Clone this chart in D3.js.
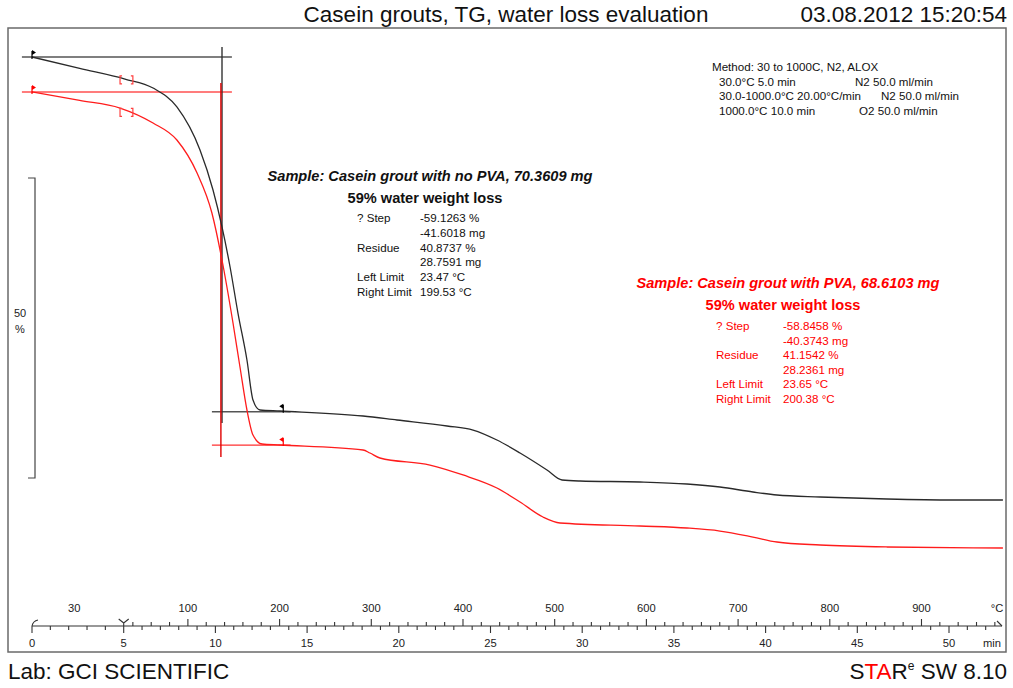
<!DOCTYPE html>
<html><head><meta charset="utf-8">
<script src="https://cdn.jsdelivr.net/npm/d3@7"></script>
<style>
html,body{margin:0;padding:0;background:#fff;}
svg{display:block;font-family:"Liberation Sans",Arial,sans-serif;}
</style></head>
<body><svg id="c" width="1013" height="688"></svg>
<script>
// ---- data (time in min, mass in %) ----
const timeBlack = [0, 2.6, 5.07, 6.6, 7.9, 9.16, 9.87, 10.36, 10.8, 11.23, 11.72, 12.05, 12.43, 13.52, 18.05, 19.9, 22.63, 24.05, 25.35, 26.61, 28.08, 28.9, 29.88, 33.15, 35.71, 37.51, 39.31, 40.62, 42.97, 46.62, 50.22, 52.94];
const massBlack = [100, 98.1, 96.33, 94.83, 91.67, 84.5, 77.83, 71.67, 65, 57.33, 49.5, 42.83, 41.17, 41.0, 40.17, 39.5, 38.5, 37.83, 36.17, 34, 31.17, 29.5, 29.33, 29.17, 28.83, 28.33, 27.5, 27.0, 26.67, 26.33, 26.17, 26.17];
const timeRed = [0, 2.6, 4.8, 6.6, 7.9, 9.0, 9.81, 10.36, 10.96, 11.34, 11.72, 12.05, 12.54, 13.52, 18.05, 18.43, 18.97, 21.7, 23.5, 25.35, 26.61, 27.86, 28.79, 33.15, 35.71, 37.51, 39.31, 40.62, 42.97, 46.62, 52.94];
const massRed = [100, 98.6, 97.33, 94.83, 92, 86.5, 79.83, 72, 61.5, 54.17, 47, 42.83, 41.33, 41.17, 40.33, 39.83, 39.0, 37.83, 36.17, 34, 31.67, 29.17, 28.17, 27.67, 27.33, 26.83, 25.83, 25.0, 24.5, 24.17, 24.0];
const timeTicks = [0, 5, 10, 15, 20, 25, 30, 35, 40, 45, 50];
const tempTicks = [100, 200, 300, 400, 500, 600, 700, 800, 900];
const residueBlack = 40.8737, residueRed = 41.1542;
const methodLines = [
  ["Method: 30 to 1000C, N2, ALOX", ""],
  ["30.0°C 5.0 min", "N2 50.0 ml/min"],
  ["30.0-1000.0°C 20.00°C/min", "N2 50.0 ml/min"],
  ["1000.0°C 10.0 min", "O2 50.0 ml/min"]
];
const tableBlack = [["? Step", "-59.1263 %"], ["", "-41.6018 mg"], ["Residue", "40.8737 %"], ["", "28.7591 mg"], ["Left Limit", "23.47 °C"], ["Right Limit", "199.53 °C"]];
const tableRed = [["? Step", "-58.8458 %"], ["", "-40.3743 mg"], ["Residue", "41.1542 %"], ["", "28.2361 mg"], ["Left Limit", "23.65 °C"], ["Right Limit", "200.38 °C"]];

// ---- scales ----
const x = d3.scaleLinear().domain([0, 50]).range([32, 949]);
const yB = d3.scaleLinear().domain([0, 100]).range([657, 57]);
const yR = d3.scaleLinear().domain([0, 100]).range([692, 92]);
const tempToTime = T => 5 + (T - 30) / 20;

const svg = d3.select("#c");
const RED = "#ff0000";

// frame
svg.append("rect").attr("x", 8).attr("y", 28).attr("width", 998).attr("height", 624)
  .attr("fill", "none").attr("stroke", "#6a6a6a").attr("stroke-width", 1.5);

// titles
svg.append("text").attr("x", 506).attr("y", 22).attr("text-anchor", "middle")
  .attr("font-size", 22.5).attr("fill", "#111").text("Casein grouts, TG, water loss evaluation");
svg.append("text").attr("x", 1007).attr("y", 22).attr("text-anchor", "end")
  .attr("font-size", 22.5).attr("fill", "#111").text("03.08.2012 15:20:54");
svg.append("text").attr("x", 8).attr("y", 679).attr("font-size", 22.5).attr("fill", "#111").text("Lab: GCI SCIENTIFIC");
const star = svg.append("text").attr("x", 1007).attr("y", 679).attr("text-anchor", "end").attr("font-size", 22.5).attr("fill", "#111");
star.append("tspan").text("S");
star.append("tspan").attr("fill", RED).text("TA");
star.append("tspan").text("R");
star.append("tspan").attr("font-size", 12).attr("dy", -9).text("e");
star.append("tspan").attr("dy", 9).text(" SW 8.10");

// method text
const mg = svg.append("g").attr("font-size", 11.6).attr("fill", "#111");
const mx1 = [712, 719, 719, 719];
const mx2 = [0, 855, 881, 859];
methodLines.forEach((l, i) => {
  mg.append("text").attr("x", mx1[i]).attr("y", 71 + i * 14.5).text(l[0]);
  if (l[1]) mg.append("text").attr("x", mx2[i]).attr("y", 71 + i * 14.5).text(l[1]);
});

// scale bar 50 %
const sbTop = 178, sbBot = sbTop + (yB(50) - yB(100));
svg.append("path").attr("d", `M28,${sbTop}H35V${sbBot}H28`).attr("fill", "none").attr("stroke", "#444").attr("stroke-width", 1.2);
svg.append("text").attr("x", 20).attr("y", 317).attr("text-anchor", "middle").attr("font-size", 11).attr("fill", "#222").text("50");
svg.append("text").attr("x", 20).attr("y", 333).attr("text-anchor", "middle").attr("font-size", 11).attr("fill", "#222").text("%");

// evaluation lines
const lineG = svg.append("g").attr("fill", "none");
lineG.append("line").attr("x1", x(-0.55)).attr("x2", x(10.9)).attr("y1", yB(100)).attr("y2", yB(100)).attr("stroke", "#555").attr("stroke-width", 1.3);
lineG.append("line").attr("x1", x(9.81)).attr("x2", x(14.1)).attr("y1", yB(residueBlack)).attr("y2", yB(residueBlack)).attr("stroke", "#555").attr("stroke-width", 1.3);
lineG.append("line").attr("x1", x(-0.55)).attr("x2", x(10.9)).attr("y1", yR(100)).attr("y2", yR(100)).attr("stroke", "#ff5050").attr("stroke-width", 1.3);
lineG.append("line").attr("x1", x(9.81)).attr("x2", x(14.1)).attr("y1", yR(residueRed)).attr("y2", yR(residueRed)).attr("stroke", "#ff3030").attr("stroke-width", 1.3);
lineG.append("line").attr("x1", x(10.36)).attr("x2", x(10.36)).attr("y1", 47).attr("y2", 423).attr("stroke", "#333").attr("stroke-width", 1.4);
lineG.append("line").attr("x1", x(10.30)).attr("x2", x(10.30)).attr("y1", 83).attr("y2", 457).attr("stroke", "#e00000").attr("stroke-width", 1.4);

// curves
const lineB = d3.line().x(d => x(d[0])).y(d => yB(d[1])).curve(d3.curveMonotoneX);
const lineR = d3.line().x(d => x(d[0])).y(d => yR(d[1])).curve(d3.curveMonotoneX);
svg.append("path").attr("d", lineB(timeBlack.map((t, i) => [t, massBlack[i]]))).attr("fill", "none").attr("stroke", "#2a2a2a").attr("stroke-width", 1.3);
svg.append("path").attr("d", lineR(timeRed.map((t, i) => [t, massRed[i]]))).attr("fill", "none").attr("stroke", "#ff1c1c").attr("stroke-width", 1.3);

// flags
function flag(px, py, col, dir) {
  svg.append("line").attr("x1", px).attr("x2", px).attr("y1", py - 6).attr("y2", py + 2).attr("stroke", col).attr("stroke-width", 1.2);
  svg.append("path").attr("d", `M${px},${py - 7}l${dir * 4},2.5l${-dir * 4},2.5Z`).attr("fill", col);
}
flag(x(0), yB(100), "#000", 1);
flag(x(0), yR(100), RED, 1);
flag(x(13.7), yB(residueBlack) - 1, "#000", -1);
flag(x(13.7), yR(residueRed) - 1, RED, -1);

// brackets
function brackets(t1, t2, yy) {
  const a = x(t1), b = x(t2);
  svg.append("path").attr("d", `M${a + 2},${yy - 4}h-2v8h2M${b - 2},${yy - 4}h2v8h-2`).attr("fill", "none").attr("stroke", "#ff4040").attr("stroke-width", 1.2);
}
brackets(4.8, 5.5, yB(96.2));
brackets(4.8, 5.5, yR(96.6));

// annotations
function annot(cx, y0, col, title, table, lx, vx, rowY, rowH) {
  const g = svg.append("g").attr("fill", col);
  g.append("text").attr("x", cx).attr("y", y0).attr("text-anchor", "middle").attr("font-size", 14.6).attr("font-weight", "bold").attr("font-style", "italic").text(title);
  g.append("text").attr("x", cx - 5).attr("y", y0 + 22).attr("text-anchor", "middle").attr("font-size", 14.6).attr("font-weight", "bold").text("59% water weight loss");
  table.forEach((r, i) => {
    g.append("text").attr("x", lx).attr("y", rowY + i * rowH).attr("font-size", 11.6).text(r[0]);
    g.append("text").attr("x", vx).attr("y", rowY + i * rowH).attr("font-size", 11.6).text(r[1]);
  });
}
annot(430, 181, "#111", "Sample: Casein grout with no PVA, 70.3609 mg", tableBlack, 357, 420, 222, 14.8);
annot(788, 288, RED, "Sample: Casein grout with PVA, 68.6103 mg", tableRed, 716, 783, 330, 14.6);

// bottom axis
const axY = 626;
const ag = svg.append("g").attr("stroke", "#333").attr("stroke-width", 1.1);
ag.append("line").attr("x1", x(0)).attr("x2", 1002).attr("y1", axY).attr("y2", axY);
d3.range(0, 53, 1).forEach(t => {
  const major = t % 5 === 0;
  ag.append("line").attr("x1", x(t)).attr("x2", x(t)).attr("y1", axY).attr("y2", axY + (major ? 7 : 4));
});
d3.range(40, 1000, 20).forEach(T => {
  const major = T % 100 === 0;
  const t = tempToTime(T);
  ag.append("line").attr("x1", x(t)).attr("x2", x(t)).attr("y1", axY).attr("y2", axY - (major ? 7 : 4));
});
ag.append("path").attr("fill", "none").attr("d", `M${x(0)},${axY}q1,-5 6,-6`);
ag.append("path").attr("fill", "none").attr("d", `M${x(5) - 5},${axY - 7}L${x(5)},${axY - 3}L${x(5) + 5},${axY - 7}M${x(5)},${axY - 3}V${axY}`);
ag.append("path").attr("fill", "none").attr("d", `M997,${axY - 5}L1002,${axY}`);
const lg = svg.append("g").attr("font-size", 11.2).attr("fill", "#222").attr("text-anchor", "middle");
timeTicks.forEach(t => lg.append("text").attr("x", x(t)).attr("y", 647).text(t));
tempTicks.forEach(T => lg.append("text").attr("x", x(tempToTime(T))).attr("y", 612).text(T));
lg.append("text").attr("x", x(2.3)).attr("y", 612).text("30");
lg.append("text").attr("x", 997).attr("y", 612).text("°C");
lg.append("text").attr("x", 992).attr("y", 647).text("min");
</script></body></html>
